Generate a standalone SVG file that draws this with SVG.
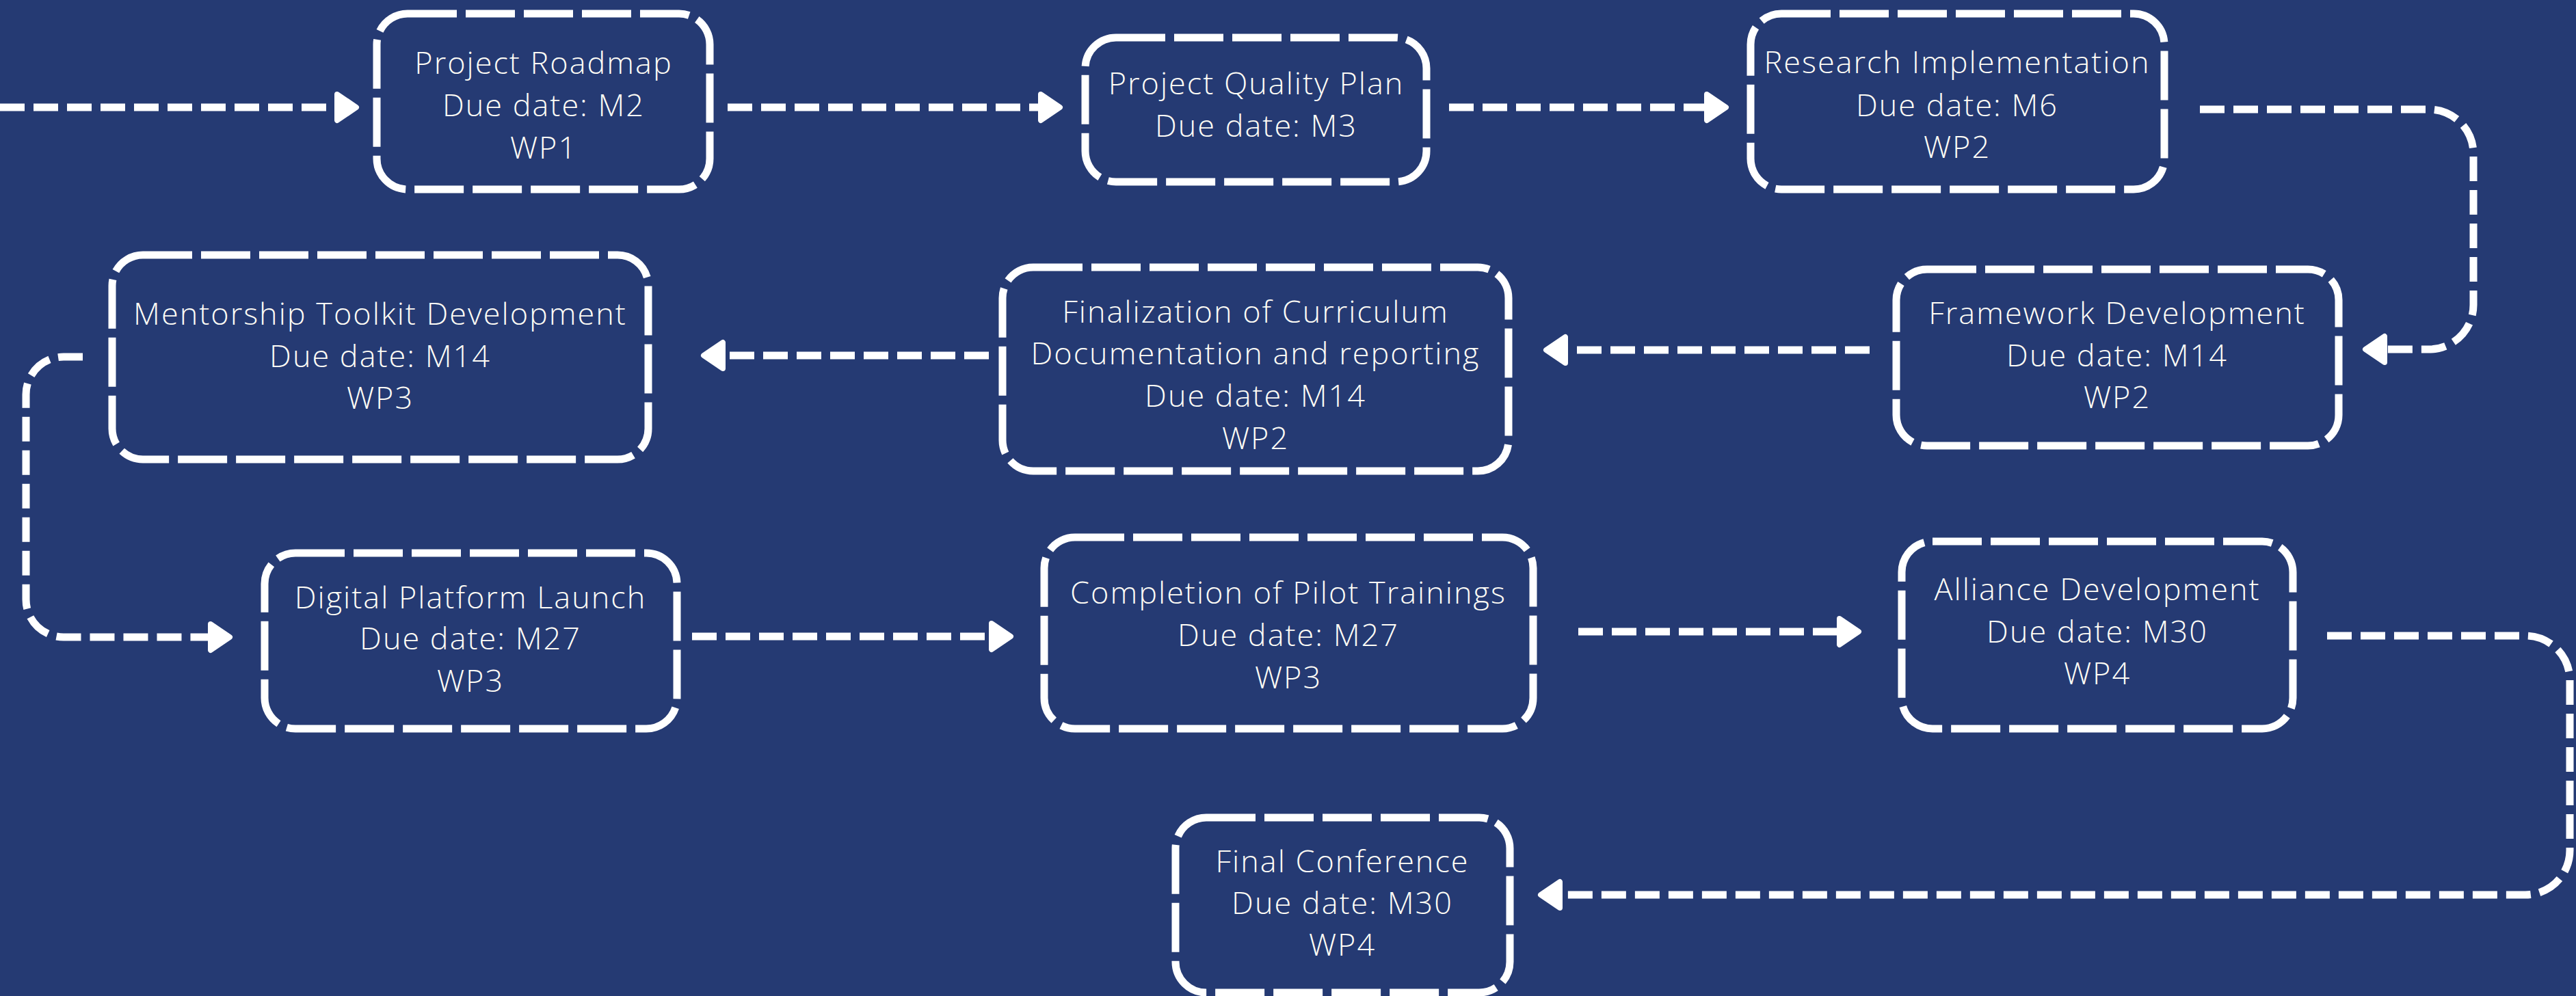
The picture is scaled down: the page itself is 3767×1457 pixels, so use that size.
<svg xmlns="http://www.w3.org/2000/svg" width="3767" height="1457" viewBox="0 0 3767 1457">
<defs>
<style>
.box{fill:none;stroke:#ffffff;stroke-width:11;stroke-dasharray:72 13;}
.lbl{font-family:"Open Sans","Liberation Sans",sans-serif;font-weight:300;font-size:45px;letter-spacing:2px;fill:#fffdf6;text-anchor:middle;}
.con{fill:none;stroke:#ffffff;stroke-width:11;stroke-dasharray:36 13;}
</style>
<marker id="arr" markerUnits="userSpaceOnUse" orient="auto" markerWidth="60" markerHeight="60" refX="0" refY="0" viewBox="-10 -30 50 60" overflow="visible">
<path d="M2,-19 L30,0 L2,19 Z" fill="#ffffff" stroke="#ffffff" stroke-width="8" stroke-linejoin="round"/>
</marker>
</defs>
<rect width="3767" height="1457" fill="#253a73"/>
<g id="connectors">
<path class="con" d="M0,157 H491" marker-end="url(#arr)"/>
<path class="con" d="M1064,157 H1520" marker-end="url(#arr)"/>
<path class="con" d="M2119,157 H2494" marker-end="url(#arr)"/>
<path class="con" d="M3217,160 H3552 A65,65 0 0 1 3617,225 V446 A65,65 0 0 1 3552,511 H3489" marker-end="url(#arr)"/>
<path class="con" d="M2734,512 H2291" marker-end="url(#arr)"/>
<path class="con" d="M1446,520 H1059" marker-end="url(#arr)"/>
<path class="con" d="M121,522 H93 A55,55 0 0 0 38,577 V877 A55,55 0 0 0 93,932 H306" marker-end="url(#arr)"/>
<path class="con" d="M1012,931 H1448" marker-end="url(#arr)"/>
<path class="con" d="M2308,924 H2688" marker-end="url(#arr)"/>
<path class="con" d="M3403,930 H3693 A65,65 0 0 1 3758,995 V1244 A65,65 0 0 1 3693,1309 H2283" marker-end="url(#arr)"/>
</g>
<g id="n1"><rect class="box" x="551" y="20" width="487" height="257" rx="45"/>
<text class="lbl" x="795" y="108">Project Roadmap</text><text class="lbl" x="795" y="170">Due date: M2</text><text class="lbl" x="795" y="232">WP1</text></g>
<g id="n2"><rect class="box" x="1587" y="55" width="499" height="211" rx="45"/>
<text class="lbl" x="1837" y="138">Project Quality Plan</text><text class="lbl" x="1837" y="200">Due date: M3</text></g>
<g id="n3"><rect class="box" x="2560" y="20" width="605" height="257" rx="45"/>
<text class="lbl" x="2862" y="107">Research Implementation</text><text class="lbl" x="2862" y="170">Due date: M6</text><text class="lbl" x="2862" y="231">WP2</text></g>
<g id="n4"><rect class="box" x="2773" y="394" width="647" height="258" rx="45"/>
<text class="lbl" x="3096" y="474">Framework Development</text><text class="lbl" x="3096" y="536">Due date: M14</text><text class="lbl" x="3096" y="597">WP2</text></g>
<g id="n5"><rect class="box" x="1466" y="391" width="740" height="298" rx="45"/>
<text class="lbl" x="1836" y="472">Finalization of Curriculum</text><text class="lbl" x="1836" y="533">Documentation and reporting</text><text class="lbl" x="1836" y="595">Due date: M14</text><text class="lbl" x="1836" y="657">WP2</text></g>
<g id="n6"><rect class="box" x="164" y="373" width="784" height="299" rx="45"/>
<text class="lbl" x="556" y="475">Mentorship Toolkit Development</text><text class="lbl" x="556" y="537">Due date: M14</text><text class="lbl" x="556" y="598">WP3</text></g>
<g id="n7"><rect class="box" x="387" y="809" width="603" height="257" rx="45"/>
<text class="lbl" x="688" y="890">Digital Platform Launch</text><text class="lbl" x="688" y="950">Due date: M27</text><text class="lbl" x="688" y="1012">WP3</text></g>
<g id="n8"><rect class="box" x="1527" y="786" width="715" height="280" rx="45"/>
<text class="lbl" x="1884" y="883">Completion of Pilot Trainings</text><text class="lbl" x="1884" y="945">Due date: M27</text><text class="lbl" x="1884" y="1007">WP3</text></g>
<g id="n9"><rect class="box" x="2781" y="792" width="572" height="274" rx="45"/>
<text class="lbl" x="3067" y="878">Alliance Development</text><text class="lbl" x="3067" y="940">Due date: M30</text><text class="lbl" x="3067" y="1001">WP4</text></g>
<g id="n10"><rect class="box" x="1719" y="1196" width="489" height="256" rx="45"/>
<text class="lbl" x="1963" y="1276">Final Conference</text><text class="lbl" x="1963" y="1337">Due date: M30</text><text class="lbl" x="1963" y="1398">WP4</text></g>
</svg>
